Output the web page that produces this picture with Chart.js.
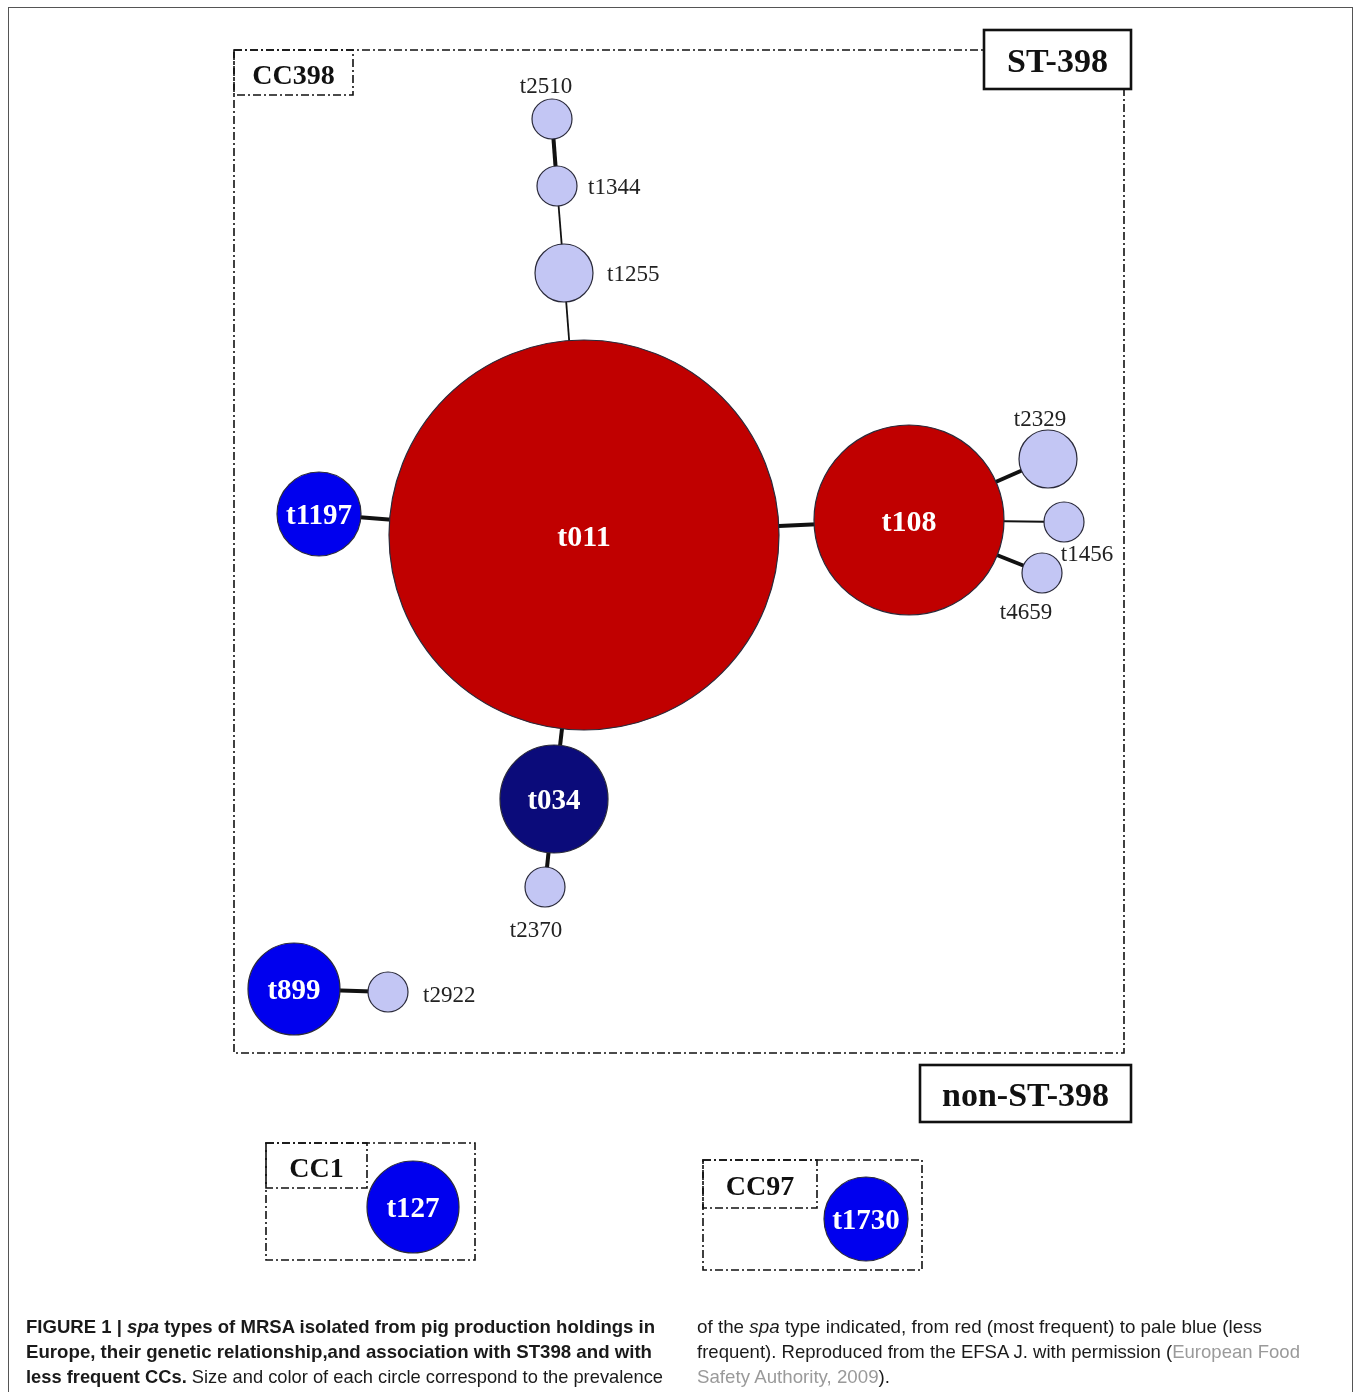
<!DOCTYPE html>
<html>
<head>
<meta charset="utf-8">
<script src="https://cdn.jsdelivr.net/npm/chart.js@4.4.0/dist/chart.umd.min.js"></script>
<style>
html, body { margin: 0; padding: 0; background: #fff; }
#wrap { position: relative; width: 1354px; height: 1392px; overflow: hidden; }
#frame { position: absolute; left: 8px; top: 7px; width: 1345px; height: 1440px; border: 1.5px solid #555; box-sizing: border-box; }
#chartBox { position: absolute; left: 0; top: 0; width: 1354px; height: 1392px; }
.cap { position: absolute; font-family: "Liberation Sans", Arial, sans-serif; font-size: 19px; line-height: 1; color: #1a1a1a; white-space: nowrap; transform-origin: 0 0; }
.cap .g { color: #9a9a9a; }
</style>
</head>
<body>
<div id="wrap">
  <div id="frame"></div>
  <div id="chartBox"><canvas id="net"></canvas></div>

  <div class="cap" style="left:26px;top:1317px" data-w="629"><b>FIGURE 1 | <i>spa</i> types of MRSA isolated from pig production holdings in</b></div>
  <div class="cap" style="left:26px;top:1342px" data-w="626"><b>Europe, their genetic relationship,and association with ST398 and with</b></div>
  <div class="cap" style="left:26px;top:1367px" data-w="637"><b>less frequent CCs.</b> Size and color of each circle correspond to the prevalence</div>
  <div class="cap" style="left:697px;top:1317px" data-w="565">of the <i>spa</i> type indicated, from red (most frequent) to pale blue (less</div>
  <div class="cap" style="left:697px;top:1342px" data-w="603">frequent). Reproduced from the EFSA J. with permission (<span class="g">European Food</span></div>
  <div class="cap" style="left:697px;top:1367px" data-w="193"><span class="g">Safety Authority, 2009</span>).</div>
</div>

<script>
// spa types (nodes)
const nodeNames = ['t011', 't108', 't1197', 't034', 't2370', 't1255', 't1344', 't2510', 't2329', 't1456', 't4659', 't899', 't2922', 't127', 't1730'];
const nodeX     = [584, 909, 319, 554, 545, 564, 557, 552, 1048, 1064, 1042, 294, 388, 413, 866];
const nodeY     = [535, 520, 514, 799, 887, 273, 186, 119, 459, 522, 573, 989, 992, 1207, 1219];
const nodeSize  = [195, 95, 42, 54, 20, 29, 20, 20, 29, 20, 20, 46, 20, 46, 42];
// prevalence class: 4 = most frequent (red) ... 1 = least frequent (pale blue)
const nodeClass = [4, 4, 2, 3, 1, 1, 1, 1, 1, 1, 1, 2, 1, 2, 2];

// links between spa types
const edgeFrom   = ['t011', 't1255', 't1344', 't011', 't011', 't011', 't034', 't108', 't108', 't108', 't899'];
const edgeTo     = ['t1255', 't1344', 't2510', 't1197', 't108', 't034', 't2370', 't2329', 't1456', 't4659', 't2922'];
const edgeStrong = [false, false, true, true, true, true, true, true, false, true, true];

// group frames
const groupNames = ['CC398', 'CC1', 'CC97'];
const stNames = ['ST-398', 'non-ST-398'];

const classColors = { 4: '#c00000', 3: '#0b0b7a', 2: '#0000ee', 1: '#c3c6f4' };
const outsideLabel = {
  t2510: [-6, -32, 'center'], t1344: [31, 2, 'left'], t1255: [43, 2, 'left'],
  t2370: [-9, 44, 'center'], t2329: [-8, -39, 'center'], t1456: [23, 33, 'center'],
  t4659: [-16, 40, 'center'], t2922: [35, 4, 'left']
};
const groupBoxes = {
  CC398: { box: [234, 50, 1124, 1053], label: [234, 50, 353, 95], size: 28 },
  CC1:   { box: [266, 1143, 475, 1260], label: [266, 1143, 367, 1188], size: 28 },
  CC97:  { box: [703, 1160, 922, 1270], label: [703, 1160, 817, 1208], size: 28 }
};
const stBoxes = {
  'ST-398':     [984, 30, 1131, 89],
  'non-ST-398': [920, 1065, 1131, 1122]
};

const idx = name => nodeNames.indexOf(name);

const edgeSets = edgeFrom.map((a, i) => {
  const b = edgeTo[i];
  return {
    type: 'line',
    data: [{ x: nodeX[idx(a)], y: nodeY[idx(a)] }, { x: nodeX[idx(b)], y: nodeY[idx(b)] }],
    borderColor: '#111',
    borderWidth: edgeStrong[i] ? 4 : 1.8,
    pointRadius: 0,
    order: 2
  };
});

const nodeSet = {
  type: 'bubble',
  data: nodeNames.map((n, i) => ({ x: nodeX[i], y: nodeY[i], r: nodeSize[i] })),
  backgroundColor: nodeClass.map(c => classColors[c]),
  borderColor: '#2a2a3a',
  borderWidth: 1.2,
  hoverRadius: 0,
  order: 1
};

function dashRect(ctx, x1, y1, x2, y2) {
  ctx.save();
  ctx.strokeStyle = '#111';
  ctx.lineWidth = 1.6;
  ctx.setLineDash([8, 3, 2, 3]);
  ctx.strokeRect(x1, y1, x2 - x1, y2 - y1);
  ctx.restore();
}

const decorations = {
  id: 'decorations',
  beforeDatasetsDraw(chart) {
    const { ctx, scales: { x, y } } = chart;
    groupNames.forEach(g => {
      const gb = groupBoxes[g];
      const b = gb.box, l = gb.label;
      dashRect(ctx, x.getPixelForValue(b[0]), y.getPixelForValue(b[1]), x.getPixelForValue(b[2]), y.getPixelForValue(b[3]));
      dashRect(ctx, x.getPixelForValue(l[0]), y.getPixelForValue(l[1]), x.getPixelForValue(l[2]), y.getPixelForValue(l[3]));
      ctx.save();
      ctx.font = 'bold ' + gb.size + 'px "Liberation Serif", "Times New Roman", serif';
      ctx.fillStyle = '#111';
      ctx.textAlign = 'center';
      ctx.textBaseline = 'middle';
      ctx.fillText(g, x.getPixelForValue((l[0] + l[2]) / 2), y.getPixelForValue((l[1] + l[3]) / 2) + 4);
      ctx.restore();
    });
    stNames.forEach(s => {
      const b = stBoxes[s];
      const x1 = x.getPixelForValue(b[0]), y1 = y.getPixelForValue(b[1]);
      const x2 = x.getPixelForValue(b[2]), y2 = y.getPixelForValue(b[3]);
      ctx.save();
      ctx.fillStyle = '#fff';
      ctx.fillRect(x1, y1, x2 - x1, y2 - y1);
      ctx.strokeStyle = '#111';
      ctx.lineWidth = 2.6;
      ctx.strokeRect(x1, y1, x2 - x1, y2 - y1);
      ctx.font = 'bold 34px "Liberation Serif", "Times New Roman", serif';
      ctx.fillStyle = '#111';
      ctx.textAlign = 'center';
      ctx.textBaseline = 'middle';
      ctx.fillText(s, (x1 + x2) / 2, (y1 + y2) / 2 + 4);
      ctx.restore();
    });
  },
  afterDatasetsDraw(chart) {
    const { ctx, scales: { x, y } } = chart;
    ctx.save();
    ctx.textBaseline = 'middle';
    nodeNames.forEach((n, i) => {
      const px = x.getPixelForValue(nodeX[i]);
      const py = y.getPixelForValue(nodeY[i]);
      const off = outsideLabel[n];
      if (off) {
        ctx.font = '23px "Liberation Serif", "Times New Roman", serif';
        ctx.fillStyle = '#222';
        ctx.textAlign = off[2];
        ctx.fillText(n, px + off[0], py + off[1]);
      } else {
        ctx.font = 'bold ' + (nodeSize[i] > 90 ? 30 : 29) + 'px "Liberation Serif", "Times New Roman", serif';
        ctx.fillStyle = '#fff';
        ctx.textAlign = 'center';
        ctx.fillText(n, px, py + 3);
      }
    });
    ctx.restore();
  }
};

new Chart(document.getElementById('net'), {
  data: { datasets: [nodeSet, ...edgeSets] },
  options: {
    responsive: true,
    maintainAspectRatio: false,
    animation: false,
    events: [],
    layout: { padding: 0, autoPadding: false },
    plugins: { legend: { display: false }, tooltip: { enabled: false } },
    scales: {
      x: { type: 'linear', min: 0, max: 1354, display: false },
      y: { type: 'linear', min: 0, max: 1392, reverse: true, display: false }
    }
  },
  plugins: [decorations]
});

// squeeze caption lines to the column widths of the printed figure
document.querySelectorAll('.cap').forEach(el => {
  const w = el.getBoundingClientRect().width;
  el.style.transform = 'scaleX(' + (parseFloat(el.dataset.w) / w) + ')';
});
</script>
</body>
</html>
